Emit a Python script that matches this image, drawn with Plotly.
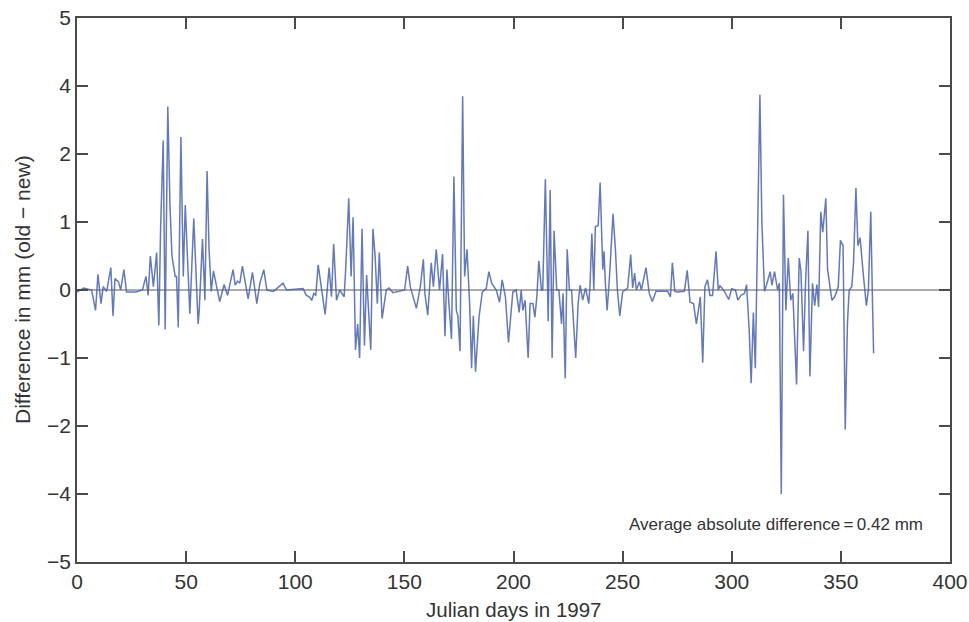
import plotly.graph_objects as go

# the printed y axis skips 3 and -3, the ticks are evenly spaced,
# so y values are read in tick steps from the zero line
tick_pos = [-4, -3, -2, -1, 0, 1, 2, 3, 4]
tick_text = ["\u22125", "\u22124", "\u22122", "\u22121", "0", "1", "2", "4", "5"]
x_ticks = [0, 50, 100, 150, 200, 250, 300, 350, 400]

days = [
    0, 3, 6.7, 8.5, 9.6, 11, 12, 13.6, 15.5, 16.5, 17.4, 19, 20, 21.5, 22.7, 27, 30, 31.6, 32.6, 33.6,
    35, 36.5, 37.5, 38.3, 39.5, 40.4, 41.6, 42.6, 43.5, 45, 45.6, 46.4, 47.6, 48.7, 49.6, 50.5, 51.7,
    53.5, 55.5, 56, 57.5, 58.6, 59.6, 60.5, 61.5, 62.5, 64, 65.4, 67.4, 69, 71.5, 72.5, 73.5, 74.6,
    75.8, 78.4, 80.4, 82.4, 83.8, 85.6, 87, 90, 94.4, 96, 103.6, 105.1, 106.4, 107.6, 108.5, 109.4,
    110.5, 112, 113.7, 115.5, 116.6, 117.6, 118.9, 120.4, 122.4, 123.1, 124.5, 125.6, 126.5, 127.6,
    128.6, 129.5, 130.6, 131.7, 132.7, 134.6, 135.6, 136.6, 137.6, 138.5, 139.8, 141.7, 143, 144.8,
    150.1, 151.5, 152.7, 155.5, 157.3, 158.7, 159.4, 160.7, 162.3, 163.3, 164.6, 166.1, 167.5, 168.6,
    169.5, 170.4, 171.6, 172.7, 173.8, 174.5, 175.5, 176.7, 177.6, 178.7, 179.9, 180.8, 181.6, 182.6,
    184.2, 185.7, 187.5, 188.7, 190, 192.1, 193.6, 194.8, 196.3, 197.7, 199.7, 201.2, 202.6, 203.5,
    204.3, 205.3, 206.7, 207.6, 208.9, 209.8, 210.7, 211.6, 212.8, 213.4, 214.6, 215.9, 216.8, 217.7,
    218.6, 219.8, 220.8, 222, 222.7, 223.7, 224.6, 225.6, 226.6, 228.5, 229.6, 230.5, 231.7, 233,
    234.5, 235.1, 235.9, 236.8, 237.5, 238.8, 239.7, 240.9, 241.5, 242.1, 242.9, 244, 245.6, 246.7,
    247.6, 248.7, 250, 252.3, 253.7, 254.6, 255.5, 256.3, 257.7, 258.6, 260.7, 262.2, 263.6, 265.3,
    270.6, 271.9, 272.8, 273.9, 275.2, 278.3, 279.6, 280.9, 282.5, 283.8, 285.6, 286.7, 287.7, 288.9,
    290, 291.2, 292.8, 293.8, 294.6, 295.5, 296.6, 298.6, 300, 301.7, 302.8, 304.2, 305.8, 306.8, 308,
    308.9, 309.9, 310.8, 311.7, 312.9, 313.8, 315, 316, 317.6, 318.4, 319.6, 321, 321.8, 322.7, 323.7,
    324.8, 325.9, 327, 328, 329.7, 330.9, 331.7, 332.9, 333.8, 334.9, 335.8, 337, 338, 339, 339.8,
    340.8, 341.7, 343.1, 343.9, 345.9, 347.2, 348.8, 349.8, 351, 352, 353, 353.8, 355, 355.8, 356.9,
    357.8, 358.8, 360.2, 361.7, 362.6, 363.7, 364.5, 365,
]
diff_steps = [
    -0.03, 0.03, 0, -0.3, 0.23, -0.2, 0.05, -0.02, 0.33, -0.38, 0.17, 0.12, 0, 0.3, -0.03, -0.03, 0, 0.2, -0.08, 0.5,
    0.05, 0.55, -0.52, 0.9, 2.2, -0.58, 2.7, 1.25, 0.5, 0.2, 0.2, -0.55, 2.25, 0.2, 1.25, 0.6, -0.35,
    1.05, -0.5, -0.3, 0.75, -0.15, 1.75, 0.6, -0.02, 0.28, 0.02, -0.17, 0.08, -0.08, 0.3, 0.07, 0.13, 0.1,
    0.35, -0.13, 0.26, -0.2, 0.1, 0.3, 0, -0.02, 0.1, 0, 0.02, -0.08, -0.1, -0.15, -0.05, -0.08,
    0.37, 0.05, -0.36, 0.33, -0.1, 0.68, -0.15, 0, -0.1, 0.3, 1.35, 0.2, 1.07, -0.88,
    -0.5, -1.0, 0.9, -0.82, 0.22, -0.88, 0.9, 0.5, -0.2, 0.55, -0.42, 0, 0.03, -0.04,
    0, 0.35, 0.05, -0.27, 0.05, 0.45, -0.05, -0.37, 0.4, 0.05, 0.6, 0, 0.53, -0.68,
    0.3, -0.2, -0.72, 1.67, -0.3, -0.38, -0.9, 2.85, 0.2, 0.6, -0.2, -1.15, -0.38, -1.2,
    -0.4, -0.03, 0.02, 0.27, 0.1, 0, -0.18, 0.15, -0.1, -0.77, -0.03, 0, -0.33, 0,
    -0.3, -0.15, -1.0, -0.2, -0.2, -0.4, -0.1, 0.43, 0, 0, 1.63, -0.46, 1.47, -1.0,
    0.87, 0, 0, -0.5, -0.05, -1.3, 0.6, 0, 0, -1.0, -0.2, 0.07, -0.15, 0.03,
    -0.2, 0.1, 0.83, 0, 0.93, 0.95, 1.58, 0.3, 0.57, 0.1, -0.3, 0.2, 1.12, 0.6,
    0, -0.38, -0.03, 0.03, 0.52, 0.03, 0.25, 0, 0.12, 0, 0.33, -0.05, -0.17, -0.02,
    -0.02, -0.1, 0.4, -0.02, -0.03, -0.02, 0.29, -0.18, -0.2, -0.5, -0.1, -1.07, 0.05, 0.15,
    -0.08, -0.08, 0.57, 0, 0.06, 0.03, -0.02, -0.14, 0.02, 0, -0.15, -0.08, -0.05, 0.08, -0.6,
    -1.37, -0.33, -1.15, 0.7, 2.87, 1.0, -0.02, 0.08, 0.27, 0.07, 0.27, 0, 0.1, -3.0, 1.4,
    -0.3, 0.47, -0.15, -0.05, -1.39, 0.47, 0.28, -0.9, 0.1, 0.87, -1.27, 0.1, -0.23, 0.08, -0.25,
    1.15, 0.85, 1.35, 0.3, -0.15, -0.1, 0.05, 0.73, 0.65, -2.05, -0.5, 0, 0.05, 0.4, 1.5,
    0.65, 0.77, 0.25, -0.23, 0, 1.15, -0.2, -0.93,
]

fig = go.Figure()
fig.add_trace(go.Scatter(x=[0, 400], y=[0, 0], mode="lines", line=dict(color="#8f8f8f", width=1.6)))
fig.add_trace(go.Scatter(x=days, y=diff_steps, mode="lines",
                         line=dict(color="rgba(72,98,172,0.85)", width=1.5)))

axis_style = dict(
    automargin=False, showgrid=False, zeroline=False, showline=True, linecolor="#4a4a4a", linewidth=1.5,
    mirror="allticks", ticks="inside", ticklen=11, tickcolor="#4a4a4a", tickwidth=1.5,
    tickfont=dict(family="Liberation Sans", size=21, color="#333333"),
)
fig.update_xaxes(range=[0, 400], tickvals=x_ticks, **axis_style)
fig.update_yaxes(range=[-4, 4], tickvals=tick_pos, ticktext=tick_text, **axis_style)

fig.update_layout(
    width=969, height=622, showlegend=False,
    margin=dict(l=77, r=18.5, t=17.5, b=60),
    paper_bgcolor="white", plot_bgcolor="white",
    font=dict(family="Liberation Sans", color="#333333"),
)
fig.add_annotation(text="Julian days in 1997", xref="paper", yref="paper", x=0.5, y=0, yshift=-47,
                   showarrow=False, font=dict(size=20.5), yanchor="middle")
fig.add_annotation(text="Difference in mm (old \u2212 new)", xref="paper", yref="paper", x=0, xshift=-55, y=0.5,
                   xanchor="center", textangle=-90, showarrow=False, font=dict(size=21))
fig.add_annotation(text="Average absolute difference\u2009=\u20090.42 mm", x=252.2, y=-3.45, xanchor="left",
                   showarrow=False, font=dict(size=17))

fig.write_html("out.html", config=dict(displayModeBar=False),
               post_script="document.body.style.margin='0';")
